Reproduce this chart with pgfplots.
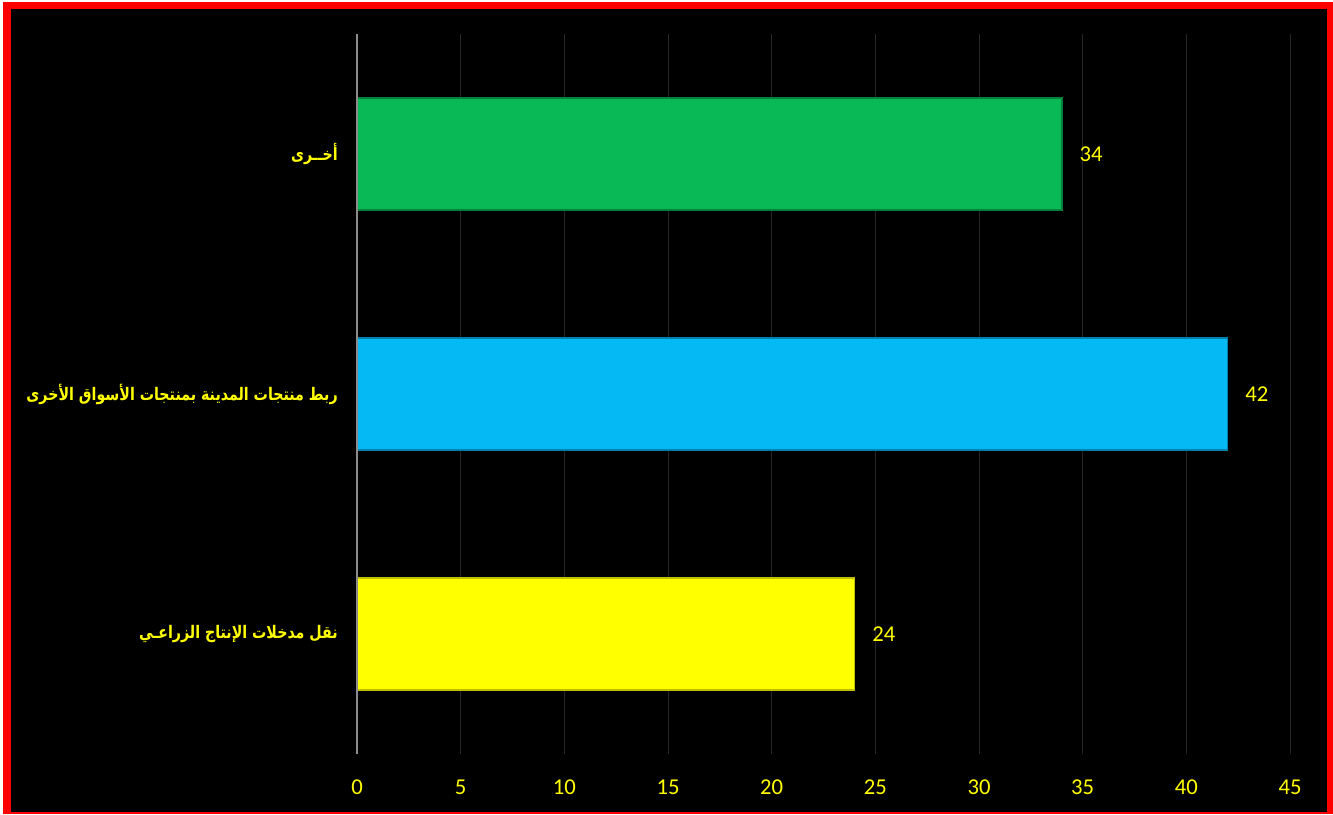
\documentclass[border=0pt]{standalone}
\usepackage{fontspec}
\usepackage{graphicx}
\usepackage{pgfplots}
\pgfplotsset{compat=1.18}
\setmainfont{Carlito}
\newfontfamily\arabicfont[Script=Arabic]{DejaVu Sans}
\TeXXeTstate=1
\definecolor{bargreen}{RGB}{8,185,85}
\definecolor{barblue}{RGB}{5,185,245}
\definecolor{baryellow}{RGB}{255,255,0}
\definecolor{gridc}{RGB}{38,38,38}
\definecolor{txtyellow}{RGB}{255,255,0}
\begin{document}
\begin{tikzpicture}
\useasboundingbox (0,0) rectangle (999.75pt,610.5pt);
\begin{scope}[x=0.75pt,y=-0.75pt,shift={(0,610.5pt)}]
\fill[white] (0,0) rectangle (1333,814);
\fill[red] (3,2) rectangle (1333,814);
\fill[black] (11,9) rectangle (1327,812);
\end{scope}
\begin{axis}[
  at={(267.75pt,45pt)}, anchor=south west,
  scale only axis, width=699.75pt, height=540pt,
  xmin=0, xmax=45, ymin=-0.5, ymax=2.5,
  xtick={0,5,...,45},
  ytick={0,1,2},
  yticklabels={{\scalebox{0.82}[1]{\beginR نقل مدخلات الإنتاج الزراعـي\endR}},{\scalebox{0.82}[1]{\beginR ربط منتجات المدينة بمنتجات الأسواق الأخرى\endR}},{\scalebox{0.82}[1]{\beginR أخــرى\endR}}},
  /pgf/number format/assume math mode=true,
  axis line style={draw=none},
  major tick length=0pt,
  xmajorgrids, major grid style={gridc, line width=0.75pt},
  xticklabel style={font=\fontsize{17}{20}\selectfont, text=txtyellow, anchor=north, inner sep=0pt, yshift=-19.5pt},
  yticklabel style={font=\arabicfont\bfseries\fontsize{13}{15}\selectfont, text=txtyellow, anchor=east, inner sep=0pt, xshift=-14.25pt},
  xbar, bar width=84pt, bar shift=0pt,
  nodes near coords,
  every node near coord/.append style={font=\fontsize{17}{20}\selectfont, text=txtyellow, anchor=west, inner sep=0pt, xshift=12.75pt},
  clip=false,
]
\addplot[fill=baryellow, draw=baryellow!75!black, line width=1pt] coordinates {(24,0)};
\addplot[fill=barblue, draw=barblue!70!black, line width=1pt] coordinates {(42,1)};
\addplot[fill=bargreen, draw=bargreen!70!black, line width=1pt] coordinates {(34,2)};
\draw[gray!90, line width=1.5pt] (axis cs:0,-0.5) -- (axis cs:0,2.5);
\end{axis}
\end{tikzpicture}
\end{document}
